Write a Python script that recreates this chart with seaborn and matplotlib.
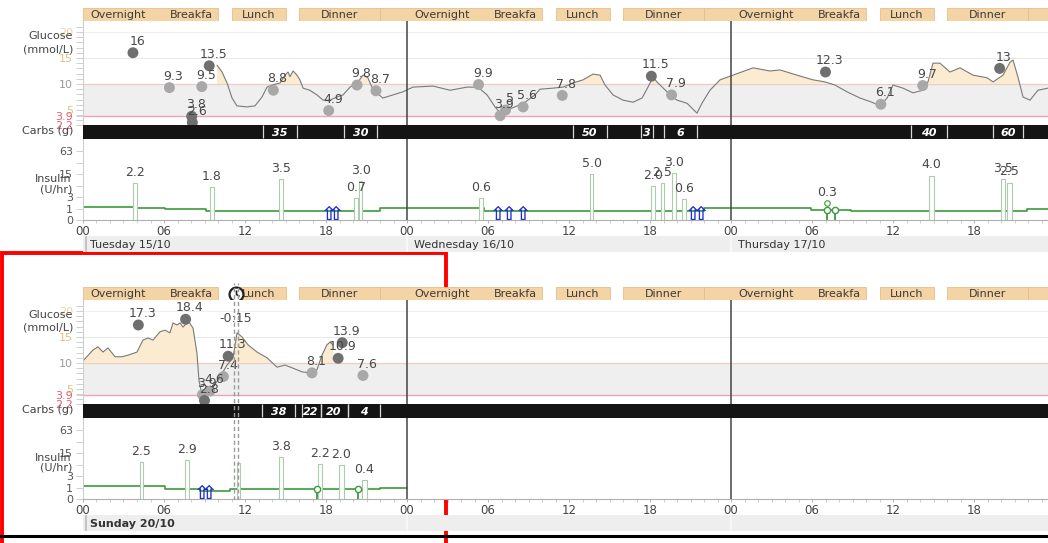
import numpy as np
import pandas as pd
import matplotlib
matplotlib.use("Agg")
import matplotlib.pyplot as plt
from matplotlib.patches import Rectangle
from matplotlib.lines import Line2D
from matplotlib.path import Path
import seaborn as sns

# ---------------- data ----------------
meal_box_start = [0, 11, 16, 22, 35, 40, 46, 59, 64, 70]
meal_box_end = [10, 15, 22, 34, 39, 46, 58, 63, 70, 82]
meal_names = ["Overnight", "Breakfa", "Lunch", "Dinner"]
meal_label_hour = [2.6, 8.0, 13.0, 19.0]
hour_tick_labels = ["00", "06", "12", "18"]

# --- top row (Tue 15/10 - Thu 17/10), hours from Tuesday 00:00 ---
top_dates = ["Tuesday 15/10", "Wednesday 16/10", "Thursday 17/10"]
top_cgm_hours = [9.93, 10.3, 10.67, 11.04, 11.4, 12.15, 12.74, 13.26, 13.63, 14.0, 14.6, 14.96, 15.19,
                 15.33, 15.56, 15.85, 16.07, 16.3, 16.8, 17.33, 17.78, 18.3, 18.8, 19.26, 19.78, 20.37,
                 20.74, 21.1, 21.4, 21.78, 22.2, 22.96, 23.7, 24.44, 25.93, 27.19, 28.44, 29.26, 29.93,
                 30.52, 31.04, 31.41, 32.0, 32.74, 33.48, 33.85, 34.81, 35.56, 36.3, 37.04, 37.78, 38.3,
                 38.67, 39.26, 40.0, 40.74, 41.41, 41.85, 42.22, 42.59, 43.26, 44.0, 44.74, 45.48, 45.85,
                 46.44, 47.19, 47.93, 49.63, 50.89, 51.63, 52.89, 54.07, 54.96, 55.7, 56.59, 57.56, 58.44,
                 59.04, 59.56, 60.0, 60.74, 61.48, 62.22, 62.59, 62.96, 63.48, 64.22, 64.96, 65.93, 66.96,
                 67.41, 68.15, 68.67, 68.89, 69.26, 69.63, 70.15, 70.74, 71.48]
top_cgm_values = [13.6, 12.3, 10.2, 7.3, 5.8, 5.6, 5.8, 7.5, 9.4, 9.8, 10.2, 11.7, 12.3,
                  11.4, 12.5, 11.7, 10.8, 9.2, 8.8, 7.9, 6.9, 6.9, 7.5, 7.9, 9.4, 10.4,
                  11.7, 11.2, 9.4, 8.3, 7.3, 7.9, 8.5, 9.4, 9.6, 8.8, 9.4, 9.4, 7.9,
                  5.6, 4.0, 5.0, 5.6, 6.5, 7.9, 9.0, 9.2, 9.4, 10.2, 10.8, 11.9, 11.7,
                  9.8, 7.9, 6.9, 6.5, 7.3, 9.4, 11.3, 10.2, 8.5, 6.9, 6.3, 4.4, 6.3,
                  8.8, 10.8, 11.5, 13.1, 12.5, 12.7, 11.7, 10.8, 10.4, 9.8, 8.5, 7.3, 6.5,
                  5.8, 7.3, 9.8, 9.2, 8.3, 8.8, 10.4, 14.0, 14.0, 12.3, 13.1, 11.7, 11.2,
                  10.4, 11.7, 14.2, 14.6, 11.3, 7.5, 6.9, 8.8, 9.2]
top_bg_hours = [3.7, 6.4, 8.05, 8.1, 8.8, 9.35, 14.1, 18.2, 20.3, 21.7,
                29.3, 30.9, 31.3, 32.6, 35.5, 42.1, 43.6,
                55.0, 59.1, 62.2, 67.9]
top_bg_values = [16.0, 9.3, 3.8, 2.6, 9.5, 13.5, 8.8, 4.9, 9.8, 8.7,
                 9.9, 3.9, 5.0, 5.6, 7.8, 11.5, 7.9,
                 12.3, 6.1, 9.7, 13.0]
top_carb_start = [13.3, 19.3, 36.3, 41.3, 43.0, 61.3, 67.4]
top_carb_end = [15.85, 21.8, 38.8, 42.2, 45.5, 64.0, 69.6]
top_carb_grams = [35, 30, 50, 3, 6, 40, 60]
top_bolus_hours = [3.7, 9.4, 14.5, 20.1, 20.45, 29.3, 37.55, 42.05, 42.8, 43.6, 44.35, 62.7, 68.0, 68.45]
top_bolus_dur = [0.3, 0.3, 0.35, 0.25, 0.25, 0.35, 0.25, 0.3, 0.25, 0.3, 0.3, 0.35, 0.3, 0.35]
top_bolus_rate = [8.3, 6.3, 10.9, 2.8, 9.5, 2.8, 14.7, 6.8, 8.1, 15.7, 2.5, 13.5, 10.6, 8.5]
top_bolus_units = ["2.2", "1.8", "3.5", "0.7", "3.0", "0.6", "5.0", "2.0", "2.5", "3.0", "0.6", "4.0", "3.5", "2.5"]
top_basal_hours = [0, 4.0, 6.1, 9.1, 22.0, 29.7, 46.0, 53.9, 56.9, 69.9, 72]
top_basal_rates = [1.15, 1.1, 0.9, 0.72, 1.03, 0.72, 1.03, 0.85, 0.72, 1.0, 1.0]
top_arrow_hours = [18.2, 18.7, 30.7, 31.5, 32.5, 45.1, 45.7]
top_green_hours = [55.1, 55.7]
top_green_labels = ["0.3", ""]

# --- bottom row (Sun 20/10) ---
bot_dates = ["Sunday 20/10", "", ""]
bot_cgm_hours = [0.0, 0.74, 1.11, 1.48, 1.85, 2.37, 2.89, 3.33, 4.0, 4.44, 4.81, 5.19, 5.7, 6.07, 6.44,
                 6.67, 6.96, 7.19, 7.41, 7.7, 7.85, 8.15, 8.44, 8.59, 8.81, 9.63, 10.15, 10.67, 11.11,
                 11.41, 11.78, 12.22, 12.89, 13.63, 14.37, 14.96, 15.56, 16.22, 16.81, 17.33, 17.7,
                 18.07, 18.3, 18.52]
bot_cgm_values = [10.4, 12.5, 13.1, 12.1, 12.9, 11.2, 11.2, 11.5, 12.1, 14.4, 14.8, 14.4, 16.0, 16.3, 15.8,
                  17.7, 17.3, 17.7, 16.9, 17.7, 17.9, 16.7, 11.9, 6.7, 3.8, 5.4, 7.3, 9.6, 11.0,
                  15.8, 15.0, 13.5, 12.1, 11.0, 9.2, 9.6, 9.0, 8.3, 8.1, 8.7, 11.5,
                  13.5, 14.0, 13.5]
bot_bg_hours = [4.1, 7.6, 8.85, 9.0, 9.4, 10.4, 10.75, 16.96, 18.9, 19.2, 20.74]
bot_bg_values = [17.3, 18.4, 3.9, 2.8, 4.6, 7.4, 11.3, 8.1, 10.9, 13.9, 7.6]
bot_carb_start = [13.26, 16.2, 17.6, 19.6]
bot_carb_end = [15.7, 17.6, 19.6, 22.0]
bot_carb_grams = [38, 22, 20, 4]
bot_bolus_hours = [4.2, 7.56, 11.4, 14.5, 17.4, 18.95, 20.7]
bot_bolus_dur = [0.25, 0.3, 0.2, 0.3, 0.3, 0.35, 0.3]
bot_bolus_rate = [8.4, 9.6, 7.7, 11.6, 7.2, 6.8, 2.1]
bot_bolus_units = ["2.5", "2.9", "", "3.8", "2.2", "2.0", "0.4"]
bot_basal_hours = [0, 6.07, 8.67, 10.9, 22.0, 24.0]
bot_basal_rates = [1.15, 0.82, 0.62, 0.82, 1.0, 1.0]
bot_arrow_hours = [8.75, 9.3]
bot_green_hours = [17.3, 20.4]
bot_green_labels = ["", ""]
bot_event_hours = [11.2, 11.45]
bot_event_label = "-0:15"
bot_event_label_glucose = 18.5

# ---------------- style ----------------
sns.set_theme(style="white")
plt.rcParams["font.family"] = ["DejaVu Sans"]

W, H = 1048, 543
fig = plt.figure(figsize=(W / 100, H / 100), dpi=100)
X0, PXH, NH = 83, 13.5, 72
X1 = X0 + PXH * NH

BG_PAL = {"high": "#6F6F6F", "in": "#A8A8A8", "low": "#6F6F6F"}
GREEN = "#3C9A3C"
TXT = "#484848"


def add_ax(y0, y1, z=1):
    ax = fig.add_axes([X0 / W, 1 - y1 / H, (X1 - X0) / W, (y1 - y0) / H], zorder=z)
    ax.set_xlim(0, NH)
    return ax


def fwd(v):
    return np.log2(1 + np.clip(v, -0.99, None))


def inv(y):
    return 2.0 ** np.asarray(y) - 1


def basal_at(h, hours, rates):
    i = np.searchsorted(hours, h, side="right") - 1
    return rates[max(i, 0)]


def draw_panel(yo, cgm_h, cgm_v, bg_h, bg_v, carb_s, carb_e, carb_g, bol_h, bol_d, bol_r, bol_u,
               bas_h, bas_r, arrows, green_h, green_lab, dates, bold):
    # ---- meal header ----
    axh = add_ax(8 + yo, 21 + yo)
    axh.set_ylim(0, 1)
    axh.axis("off")
    for s, e in zip(meal_box_start, meal_box_end):
        axh.add_patch(Rectangle((s, 0), e - s, 1, facecolor="#F4D4A4", edgecolor="#E4BF8C", lw=0.6))
    for d in range(3):
        for name, lh in zip(meal_names, meal_label_hour):
            axh.text(d * 24 + lh, 0.45, name, ha="center", va="center", fontsize=8, color="#3a3a3a")

    # ---- glucose ----
    axg = add_ax(21 + yo, 124.6 + yo)
    axg.set_ylim(2.2, 22.1)
    axg.axhspan(3.9, 10, color="#EFEFEF", lw=0, zorder=0)
    axg.axhline(20, color="#F0F0F0", lw=0.7, zorder=0)
    axg.axhline(15, color="#E8E8E8", lw=0.7, zorder=0)
    axg.axhline(10, color="#E9CEC4", lw=0.9, zorder=1)
    axg.axhline(3.9, color="#EBA3B6", lw=1.0, zorder=1)
    t = np.array(cgm_h, dtype=float)
    g = np.array(cgm_v, dtype=float)
    axg.fill_between(t, 10, g, where=g > 10, interpolate=True, color="#FBEBD0", lw=0, zorder=1)
    sns.lineplot(x=t, y=g, ax=axg, color="#7a7a7a", lw=0.8, zorder=2, estimator=None, sort=False)
    df = pd.DataFrame({"h": bg_h, "g": bg_v})
    df["band"] = np.where(df.g > 10, "high", np.where(df.g < 3.9, "low", "in"))
    sns.scatterplot(data=df, x="h", y="g", hue="band", palette=BG_PAL, s=62, linewidth=0,
                    legend=False, ax=axg, zorder=4, clip_on=False)
    for h, v in zip(bg_h, bg_v):
        axg.annotate(f"{v:g}", (h, v), xytext=(3, 3.5), textcoords="offset points", ha="center",
                     va="bottom", fontsize=9, color=TXT, zorder=5, annotation_clip=False)
    for dsep in (24, 48):
        axg.axvline(dsep, color="#444444", lw=1.1, zorder=3)
    gt = [2.2, 3.9, 5, 10, 15, 20]
    axg.set_yticks(gt)
    axg.set_yticklabels(["2.2", "3.9", "5", "10", "15", "20"])
    for lab, c in zip(axg.get_yticklabels(),
                      ["#E0606E", "#E0606E", "#E2C27E", "#9A9A9A", "#E2C27E", "#EAD5A6"]):
        lab.set_color(c)
    axg.set_yticks(np.arange(3, 22, 1), minor=True)
    axg.tick_params(axis="y", which="both", left=True, length=5, width=0.6, color="#C8C8C8",
                    labelsize=8, pad=2)
    axg.set_xticks([])
    axg.set_xlabel("")
    axg.set_ylabel("")
    for sp in ("top", "right", "bottom"):
        axg.spines[sp].set_visible(False)
    axg.spines["left"].set_color("#CCCCCC")
    axg.spines["left"].set_linewidth(0.7)

    # ---- carbs band ----
    axc = add_ax(124.6 + yo, 139 + yo)
    axc.set_facecolor("#141414")
    axc.set_ylim(0, 1)
    axc.set_xticks([])
    axc.set_yticks([])
    for sp in axc.spines.values():
        sp.set_visible(False)
    for s, e, v in zip(carb_s, carb_e, carb_g):
        r = Rectangle((s, 0), e - s, 1, facecolor="#141414", edgecolor="none")
        axc.add_patch(r)
        axc.vlines([s, e], 0.05, 0.95, color="#D8D8D8", lw=0.9)
        tx = axc.text((s + e) / 2, 0.45, str(v), ha="center", va="center", color="white",
                      fontsize=8, fontstyle="italic", fontweight="bold")
        tx.set_clip_path(r)

    # ---- insulin ----
    axi = add_ax(139 + yo, 220 + yo)
    axi.set_yscale("function", functions=(fwd, inv))
    axi.set_ylim(0, 131)
    sns.lineplot(x=bas_h, y=bas_r, ax=axi, drawstyle="steps-post", color=GREEN, lw=1.2,
                 estimator=None, sort=False, zorder=2)
    axi.bar(bol_h, bol_r, width=bol_d, align="edge", facecolor="white", edgecolor="#ADCBAD",
            lw=0.8, zorder=3)
    for h, d, r, u in zip(bol_h, bol_d, bol_r, bol_u):
        if u:
            axi.annotate(u, (h + d / 2, r), xytext=(0, 3), textcoords="offset points", ha="center",
                         va="bottom", fontsize=9, color=TXT, zorder=5)
    for h in arrows:
        axi.text(h, 0, "\u21e7", ha="center", va="baseline", fontsize=14, color="#1F2FD0",
                 fontweight="bold", zorder=6)
    for h, lab in zip(green_h, green_lab):
        lvl = basal_at(h, bas_h, bas_r)
        axi.vlines(h, 0, lvl, color=GREEN, lw=1.3, zorder=4)
        axi.plot([h], [lvl], "o", mfc="white", mec=GREEN, ms=4.5, mew=1, zorder=5)
        if lab:
            axi.plot([h], [1.8], "o", mfc="white", mec=GREEN, ms=4, mew=0.8, zorder=5)
            axi.annotate(lab, (h, 1.8), xytext=(0, 3), textcoords="offset points", ha="center",
                         va="bottom", fontsize=9, color=TXT)
    for dsep in (24, 48):
        axi.axvline(dsep, color="#444444", lw=1.1, zorder=3)
    axi.set_yticks([0, 1, 3, 15, 63])
    axi.set_yticklabels(["0", "1", "3", "15", "63"])
    axi.set_yticks([7, 31], minor=True)
    axi.yaxis.set_minor_formatter(plt.NullFormatter())
    axi.set_xticks(np.arange(0, NH + 1, 6))
    axi.set_xticklabels(hour_tick_labels * 3 + ["00"])
    axi.set_xticks(np.arange(0, NH + 1, 1), minor=True)
    axi.tick_params(axis="y", which="both", left=True, length=5, width=0.6, color="#C8C8C8",
                    labelsize=8, labelcolor="#555555", pad=2)
    axi.tick_params(axis="x", which="major", bottom=True, length=2.5, width=0.6, color="#AAAAAA",
                    labelsize=8.5, labelcolor="#444444", pad=0.8)
    axi.tick_params(axis="x", which="minor", bottom=True, length=2, width=0.5, color="#BBBBBB")
    axi.set_xlabel("")
    axi.set_ylabel("")
    for sp in ("top", "right"):
        axi.spines[sp].set_visible(False)
    axi.spines["left"].set_color("#CCCCCC")
    axi.spines["left"].set_linewidth(0.7)
    axi.spines["bottom"].set_color("#B0B0B0")
    axi.spines["bottom"].set_linewidth(0.8)

    # ---- date band ----
    axd = add_ax(236 + yo, 252 + yo)
    axd.set_facecolor("#EEEEEE")
    axd.set_ylim(0, 1)
    axd.set_xticks([])
    axd.set_yticks([])
    for sp in axd.spines.values():
        sp.set_visible(False)
    axd.axvline(0.2, color="#BBBBBB", lw=1.2)
    for dsep in (24, 48):
        axd.axvline(dsep, color="#FAFAFA", lw=1.2)
    for d, lab in enumerate(dates):
        if lab:
            axd.text(d * 24 + 0.55, 0.45, lab, ha="left", va="center", fontsize=8,
                     color="#333333", fontweight="bold" if bold else "normal")
    return axh, axg, axc, axi


# ---- left labels ----
for yo in (0, 279):
    fig.text(73 / W, 1 - (36 + yo) / H, "Glucose", ha="right", va="center", fontsize=8, color="#444")
    fig.text(73 / W, 1 - (49 + yo) / H, "(mmol/L)", ha="right", va="center", fontsize=8, color="#444")
    fig.text(73 / W, 1 - (131 + yo) / H, "Carbs (g)", ha="right", va="center", fontsize=8, color="#444")
    fig.text(72 / W, 1 - (179 + yo) / H, "Insulin", ha="right", va="center", fontsize=8, color="#444")
    fig.text(72 / W, 1 - (189 + yo) / H, "(U/hr)", ha="right", va="center", fontsize=8, color="#444")

draw_panel(0, top_cgm_hours, top_cgm_values, top_bg_hours, top_bg_values, top_carb_start,
           top_carb_end, top_carb_grams, top_bolus_hours, top_bolus_dur, top_bolus_rate,
           top_bolus_units, top_basal_hours, top_basal_rates, top_arrow_hours, top_green_hours,
           top_green_labels, top_dates, False)
bh, bg, bc, bi = draw_panel(279, bot_cgm_hours, bot_cgm_values, bot_bg_hours, bot_bg_values,
                            bot_carb_start, bot_carb_end, bot_carb_grams, bot_bolus_hours,
                            bot_bolus_dur, bot_bolus_rate, bot_bolus_units, bot_basal_hours,
                            bot_basal_rates, bot_arrow_hours, bot_green_hours, bot_green_labels,
                            bot_dates, True)

# ---- event marker (dashed double line with clock) in bottom row ----
axo = add_ax(283, 500, z=10)
axo.set_ylim(0, 1)
axo.axis("off")
for h in bot_event_hours:
    axo.axvline(h, color="#9A9A9A", lw=1.0, ls=(0, (3, 2)))
ev = float(np.mean(bot_event_hours))
bg.text(ev, bot_event_label_glucose, bot_event_label, ha="center", va="center", fontsize=9,
        color=TXT, zorder=6)
bh.plot([ev], [0.5], "o", mfc="white", mec="#222222", ms=10, mew=1.6, clip_on=False, zorder=10)
hand = Path([(0, 0.55), (0, 0), (0.4, -0.25)], [Path.MOVETO, Path.LINETO, Path.LINETO])
bh.plot([ev], [0.5], marker=hand, ms=6, mfc="none", mec="#222222", mew=1.2, clip_on=False, zorder=11)

# ---- annotation frame and separator line ----
fig.add_artist(Line2D([0, 1], [1 - 536 / H] * 2, transform=fig.transFigure, color="black", lw=2.2))
fig.add_artist(Rectangle((2 / W, 1 - 560 / H), 444 / W, (560 - 253) / H, transform=fig.transFigure,
                         fill=False, edgecolor="#FF0000", lw=2.8, clip_on=False))

fig.savefig("out.png", dpi=100)
